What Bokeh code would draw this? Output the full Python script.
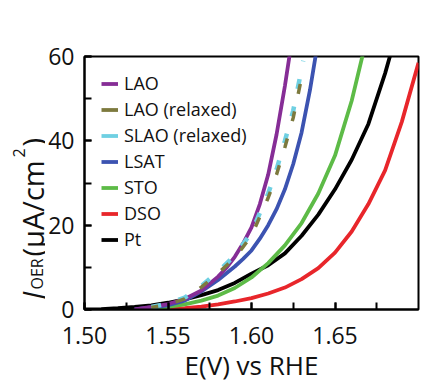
import math
from bokeh.plotting import figure
from bokeh.layouts import row
from bokeh.models import (Range1d, SingleIntervalTicker, PrintfTickFormatter,
                          Legend, LegendItem, Label)
from bokeh.embed import file_html
from bokeh.resources import INLINE

# ---- data ----
lao_E = [1.53, 1.54, 1.55, 1.56, 1.57, 1.58, 1.585, 1.59, 1.595, 1.60, 1.605, 1.61, 1.615,
         1.62, 1.625]
lao_J = [0.0, 0.6, 1.3, 2.5, 4.5, 7.8, 9.9, 12.5, 15.7, 19.5, 25.0, 32.0, 41.5,
         53.0, 66.0]

lsat_E = [1.53, 1.54, 1.55, 1.56, 1.57, 1.58, 1.59, 1.595, 1.60, 1.605, 1.61, 1.615, 1.62,
          1.625, 1.63, 1.635, 1.64]
lsat_J = [0.0, 0.5, 1.0, 2.1, 4.3, 7.0, 10.2, 12.0, 14.0, 16.8, 20.0, 23.8, 28.5,
          34.5, 42.0, 52.0, 64.0]

lao_rel_E = [1.54, 1.55, 1.56, 1.57, 1.58, 1.59, 1.60, 1.61, 1.615, 1.62, 1.625, 1.63, 1.631]
lao_rel_J = [0.5, 1.2, 2.5, 5.3, 8.6, 12.2, 17.5, 26.5, 32.0, 38.5, 45.5, 55.0, 57.5]

slao_rel_E = [1.54, 1.55, 1.56, 1.57, 1.58, 1.59, 1.60, 1.61, 1.615, 1.62, 1.625, 1.63, 1.631]
slao_rel_J = [0.6, 1.4, 2.8, 5.6, 9.0, 12.8, 18.3, 27.5, 33.2, 40.0, 47.2, 57.0, 59.0]

sto_E = [1.535, 1.54, 1.55, 1.56, 1.57, 1.58, 1.59, 1.60, 1.61, 1.62, 1.63, 1.64, 1.65, 1.66, 1.67]
sto_J = [0.0, 0.2, 0.6, 1.2, 2.1, 3.3, 5.1, 7.6, 11.0, 15.2, 20.5, 27.5, 36.5, 49.5, 66.0]

dso_E = [1.535, 1.55, 1.56, 1.57, 1.58, 1.59, 1.60, 1.61, 1.62, 1.63, 1.64, 1.65, 1.66, 1.67,
         1.68, 1.69, 1.70]
dso_J = [0.0, 0.1, 0.3, 0.7, 1.2, 1.9, 2.7, 3.8, 5.2, 7.2, 9.8, 13.5, 18.5, 25.0,
         33.0, 44.5, 58.5]

pt_E = [1.50, 1.51, 1.52, 1.53, 1.54, 1.55, 1.56, 1.57, 1.58, 1.59, 1.60, 1.61, 1.62, 1.63,
        1.64, 1.65, 1.66, 1.67, 1.68, 1.69]
pt_J = [0.0, 0.1, 0.3, 0.6, 1.0, 1.6, 2.4, 3.4, 4.6, 6.3, 8.5, 10.5, 13.3, 17.5,
        22.5, 28.5, 35.5, 44.0, 56.0, 70.0]

legend_names = ["LAO", "LAO (relaxed)", "SLAO (relaxed)", "LSAT", "STO", "DSO", "Pt"]
x_label = "E(V) vs RHE"
y_label_parts = ["J", "OER", "(\u03bcA/cm", "2", ")"]

# ---- styling ----
C_LAO = "#862d96"
C_LAOR = "#7d7a3e"
C_SLAO = "#6fd0e2"
C_LSAT = "#3c53b1"
C_STO = "#5dbb47"
C_DSO = "#e8262b"
C_PT = "#000000"
FONT = "Open Sans"
TXT = "#111111"
LW = 3.8

# page geometry (Bokeh's page template has no body margin)
FR_L, FR_R, FR_T, FR_B = 83, 418, 56, 309
LAB_W = 45
H = 389

# narrow panel holding the rotated y-axis title; its frame is aligned with the
# main frame by the row layout, so its ranges map straight to page pixels
lab = figure(width=LAB_W, height=H, output_backend="svg", toolbar_location=None,
             x_range=Range1d(0, LAB_W), y_range=Range1d(FR_B, FR_T),
             x_axis_type=None, y_axis_type=None, min_border=0)
lab.outline_line_color = None
lab.xgrid.visible = False
lab.ygrid.visible = False
lab.background_fill_color = "white"
lab.border_fill_color = "white"

def ylab(text, px, py, size, style="normal"):
    lab.add_layout(Label(x=px, y=py, text=text, angle=math.pi / 2,
                         text_font=FONT, text_font_size=size, text_font_style=style,
                         text_align="left", text_baseline="alphabetic",
                         text_color=TXT))

ylab(y_label_parts[0], 32, 299, "29px", "italic")
ylab(y_label_parts[1], 36, 289, "16px")
ylab(y_label_parts[2], 32, 256, "29px")
ylab(y_label_parts[3], 18, 157, "16px")
ylab(y_label_parts[4], 32, 146, "29px")

p = figure(width=440 - LAB_W, height=H, output_backend="svg", toolbar_location=None,
           x_range=Range1d(1.50, 1.70), y_range=Range1d(0, 60),
           min_border_left=FR_L - LAB_W, min_border_right=440 - FR_R,
           min_border_top=FR_T, min_border_bottom=H - FR_B)
p.background_fill_color = "white"
p.border_fill_color = "white"
p.outline_line_color = "black"
p.outline_line_width = 2
p.xgrid.visible = False
p.ygrid.visible = False

p.xaxis.ticker = SingleIntervalTicker(interval=0.05, num_minor_ticks=2)
p.yaxis.ticker = SingleIntervalTicker(interval=20, num_minor_ticks=2)
p.xaxis.formatter = PrintfTickFormatter(format="%.2f")
p.yaxis.formatter = PrintfTickFormatter(format="%d")
for ax in (p.xaxis[0], p.yaxis[0]):
    ax.axis_line_width = 2
    ax.axis_line_color = "black"
    ax.major_tick_in = 7
    ax.major_tick_out = 0
    ax.minor_tick_in = 7
    ax.minor_tick_out = 0
    ax.major_tick_line_width = 2
    ax.minor_tick_line_width = 2
    ax.major_label_text_font = FONT
    ax.major_label_text_font_size = "23px"
    ax.major_label_text_color = TXT
p.xaxis.major_label_standoff = 17
p.yaxis.major_label_standoff = 10
p.xaxis.axis_label = x_label
p.xaxis.axis_label_text_font = FONT
p.xaxis.axis_label_text_font_size = "26px"
p.xaxis.axis_label_text_font_style = "normal"
p.xaxis.axis_label_text_color = TXT
p.xaxis.axis_label_standoff = 0

r_dso = p.line(dso_E, dso_J, line_color=C_DSO, line_width=LW)
r_pt = p.line(pt_E, pt_J, line_color=C_PT, line_width=LW)
r_sto = p.line(sto_E, sto_J, line_color=C_STO, line_width=LW)
r_lsat = p.line(lsat_E, lsat_J, line_color=C_LSAT, line_width=LW)
r_lao = p.line(lao_E, lao_J, line_color=C_LAO, line_width=LW)
p.line(slao_rel_E, slao_rel_J, line_color=C_SLAO, line_width=4.5, line_dash="10 18")
p.line(lao_rel_E, lao_rel_J, line_color=C_LAOR, line_width=3.5, line_dash="10 18",
       line_dash_offset=3)
# solid swatches (outside the visible range) for the legend of the dashed series
sw_laor = p.line([1.40, 1.41], [-50, -50], line_color=C_LAOR, line_width=LW)
sw_slao = p.line([1.40, 1.41], [-50, -50], line_color=C_SLAO, line_width=LW)

renderers = [r_lao, sw_laor, sw_slao, r_lsat, r_sto, r_dso, r_pt]
legend = Legend(items=[LegendItem(label=n, renderers=[r]) for n, r in zip(legend_names, renderers)],
                location=(17, 58), margin=0, padding=0, spacing=2,
                label_height=21, glyph_width=17, glyph_height=21, label_standoff=6,
                label_text_font=FONT, label_text_font_size="18px",
                label_text_color=TXT,
                border_line_alpha=0, background_fill_alpha=0)
p.add_layout(legend)

layout = row(lab, p, spacing=0)
open("out.html", "w").write(file_html(layout, INLINE))
